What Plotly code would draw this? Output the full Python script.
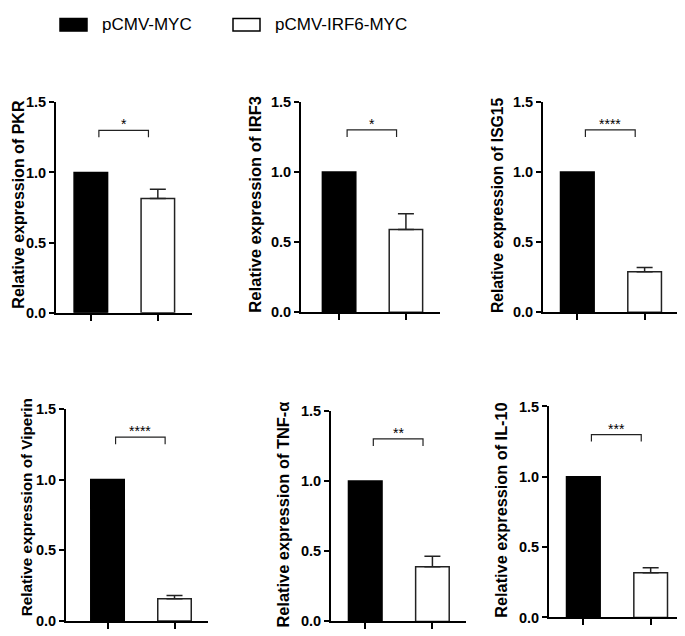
import plotly.graph_objs as go

# data
genes = ["PKR", "IRF3", "ISG15", "Viperin", "TNF-α", "IL-10"]
myc_vals = [1.0, 1.0, 1.0, 1.0, 1.0, 1.0]
irf6_vals = [0.815, 0.59, 0.29, 0.156, 0.39, 0.318]
irf6_sem = [0.065, 0.112, 0.03, 0.024, 0.074, 0.035]
stars = ["*", "*", "****", "****", "**", "***"]
bracket_y = 1.30
groups = ["pCMV-MYC", "pCMV-IRF6-MYC"]

W, H = 685, 636
OFF = 8  # the page puts the plot 8px in from the top-left corner
FONT = "Liberation Sans, Arial, sans-serif"


def fx(px):
    return (px - OFF) / W


def fy(px):
    return 1 - (px - OFF) / H


# panel frames in page px: (axis left, axis right, y of 1.5, y of 0.0, x range)
panels = [
    (56, 192, 96.5, 312.5, [-0.52, 1.51]),
    (301, 440, 96, 312, [-0.57, 1.51]),
    (543, 685, 96, 312, [-0.51, 1.60]),
    (66, 208, 411, 628.5, [-0.62, 1.50]),
    (331, 466, 413, 629, [-0.51, 1.50]),
    (549, 685, 408.5, 625, [-0.51, 1.51]),
]
# y-axis title centre (page px) and font size for each panel
title_pos = [(19, 201.5, 16.0), (256, 201.5, 16.6), (497.5, 202.5, 15.7),
             (26.5, 512.5, 15.3), (283.5, 520, 16.4), (501, 515.5, 16.3)]

fig = go.Figure()
layout = dict()

for i, gene in enumerate(genes):
    n = '' if i == 0 else str(i + 1)
    xa, ya = 'x' + n, 'y' + n
    left, right, top, bottom, xr = panels[i]

    fig.add_trace(go.Bar(
        x=[0], y=[myc_vals[i]], width=0.5,
        marker=dict(color='black', line=dict(color='black', width=1.5)),
        name=groups[0], showlegend=False, xaxis=xa, yaxis=ya,
    ))
    fig.add_trace(go.Bar(
        x=[1], y=[irf6_vals[i]], width=0.5,
        marker=dict(color='white', line=dict(color='#222222', width=1.5)),
        error_y=dict(type='data', symmetric=False, array=[irf6_sem[i]], arrayminus=[0],
                     color='#222222', thickness=1.5, width=8),
        name=groups[1], showlegend=False, xaxis=xa, yaxis=ya,
    ))

    layout['xaxis' + n] = dict(
        domain=[fx(left), fx(right)],
        anchor=ya, range=xr,
        showline=True, linecolor='black', linewidth=2,
        tickvals=[0, 1], ticktext=['', ''], ticks='outside', ticklen=6,
        tickwidth=2, tickcolor='black', showgrid=False, zeroline=False,
    )
    layout['yaxis' + n] = dict(
        domain=[fy(bottom), fy(top)],
        anchor=xa, range=[0, 1.5],
        tickvals=[0, 0.5, 1.0, 1.5], tickformat='.1f',
        showline=True, linecolor='black', linewidth=2,
        ticks='outside', ticklen=5, tickwidth=2, tickcolor='black',
        tickfont=dict(family=FONT, size=14.5, color='black', weight='bold'),
        showgrid=False, zeroline=False,
    )

    tx, ty, ts = title_pos[i]
    fig.add_annotation(x=fx(tx), y=fy(ty), xref='paper', yref='paper',
                       text='Relative expression of ' + gene, textangle=-90,
                       showarrow=False, xanchor='center', yanchor='middle', borderpad=0,
                       font=dict(family=FONT, size=ts, color='black', weight='bold'))

    # significance bracket
    x0, x1 = 0.12, 0.86
    fig.add_shape(type='path', xref=xa, yref=ya,
                  path='M {0},{2} L {0},{3} L {1},{3} L {1},{2}'.format(x0, x1, bracket_y - 0.05, bracket_y),
                  line=dict(color='#222222', width=1.2))
    fig.add_annotation(x=(x0 + x1) / 2, y=bracket_y, xref=xa, yref=ya,
                       text=stars[i], showarrow=False, yanchor='bottom', yshift=-4,
                       font=dict(family=FONT, size=14, color='black'))

# legend drawn by hand
for k, (g, fill) in enumerate(zip(groups, ['black', 'white'])):
    lx = [60, 233][k]
    fig.add_shape(type='rect', xref='paper', yref='paper',
                  x0=fx(lx), x1=fx(lx + 27), y0=fy(23.5), y1=fy(10.5),
                  fillcolor=fill, line=dict(color='black', width=1.5))
    fig.add_annotation(x=fx(lx + 40), y=fy(17), xref='paper', yref='paper',
                       text=g, showarrow=False, xanchor='left', yanchor='middle',
                       font=dict(family=FONT, size=17, color='black'))

fig.update_layout(
    width=W, height=H,
    margin=dict(l=0, r=0, t=0, b=0),
    barmode='overlay',
    showlegend=False,
    paper_bgcolor='rgb(255, 255, 255)',
    plot_bgcolor='rgb(255, 255, 255)',
    **layout
)

fig.write_html("out.html")
